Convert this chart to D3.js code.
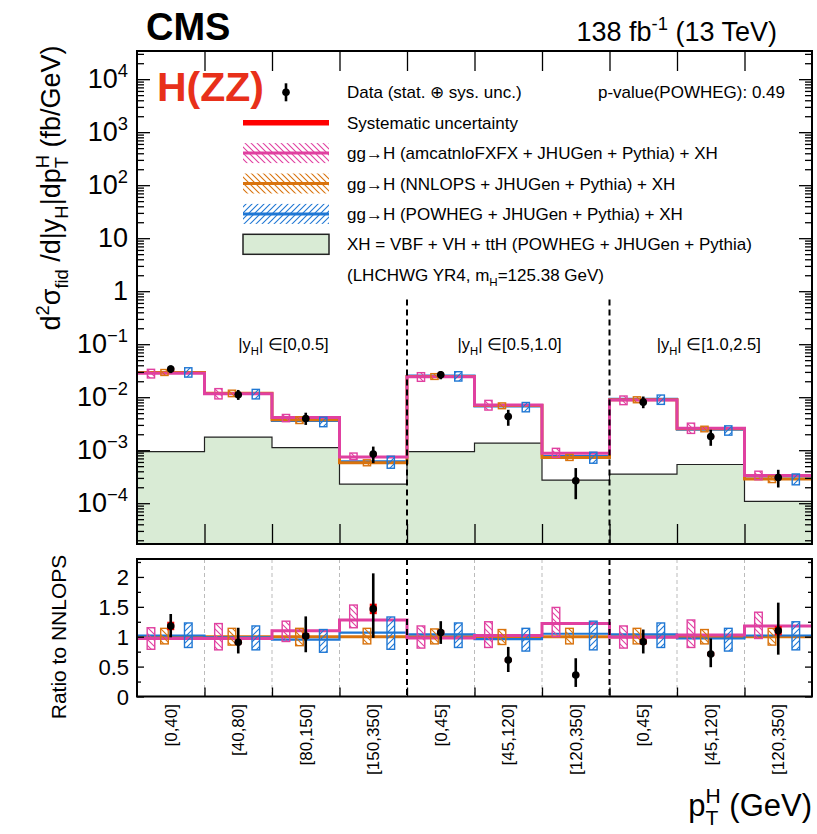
<!DOCTYPE html>
<html>
<head>
<meta charset="utf-8">
<script src="https://cdn.jsdelivr.net/npm/d3@7"></script>
<style>
  body { margin: 0; background: #fff; }
  svg { display: block; font-family: "Liberation Sans", Arial, sans-serif; }
</style>
</head>
<body>
<div id="chart"></div>
<script>
// bins (pT ranges inside each |yH| range)
const binLabels = ["[0,40]", "[40,80]", "[80,150]", "[150,350]", "[0,45]", "[45,120]", "[120,350]", "[0,45]", "[45,120]", "[120,350]"];
const rapLabels = ["[0,0.5]", "[0.5,1.0]", "[1.0,2.5]"];
const rapPos = [2.17, 5.52, 8.47];
const sepBins = [4, 7];

// upper panel (fb/GeV)
const dataXS = [0.0339, 0.0111, 0.00397, 0.000844, 0.0265, 0.00432, 0.000265, 0.00807, 0.00181, 0.000305];
const dataLo = [0.0285, 0.0089, 0.0030, 0.00057, 0.0218, 0.00289, 0.000119, 0.0062, 0.00121, 0.000198];
const dataHi = [0.0397, 0.0137, 0.0051, 0.00117, 0.0312, 0.00578, 0.00046, 0.0103, 0.00243, 0.000427];
const sysRel = [0.06, 0.04, 0.05, 0.06, 0.04, 0.05, 0.06, 0.05, 0.05, 0.07];
const nnlops = [0.0292, 0.0119, 0.00375, 0.000578, 0.0246, 0.00697, 0.000728, 0.00893, 0.00253, 0.000285];
const amcnlo = [0.0284, 0.0116, 0.00412, 0.000741, 0.0242, 0.00710, 0.000880, 0.00885, 0.00260, 0.000332];
const powheg = [0.0298, 0.0118, 0.00356, 0.000618, 0.0256, 0.00669, 0.000770, 0.00929, 0.00245, 0.000291];
const xhOnly = [0.00094, 0.00177, 0.00112, 0.000229, 0.00094, 0.00136, 0.000273, 0.000354, 0.000537, 0.000108];

// ratio panel (to NNLOPS)
const ratioData = [1.18, 0.907, 1.013, 1.465, 1.07, 0.61, 0.36, 0.917, 0.711, 1.10];
const ratioLo = [0.99, 0.72, 0.74, 0.98, 0.88, 0.41, 0.16, 0.72, 0.49, 0.70];
const ratioHi = [1.38, 1.15, 1.34, 2.06, 1.26, 0.83, 0.64, 1.12, 0.97, 1.57];
const ratioNnlops = [1, 1, 1, 1, 1, 1, 1, 1, 1, 1];
const ratioAmc = [0.97, 0.97, 1.10, 1.28, 0.98, 1.02, 1.22, 0.99, 1.03, 1.18];
const ratioPowheg = [1.02, 0.99, 0.95, 1.07, 1.04, 0.96, 1.05, 1.04, 0.97, 1.02];
const amcLo = [0.79, 0.78, 0.92, 1.15, 0.81, 0.82, 1.00, 0.81, 0.82, 0.97];
const amcHi = [1.15, 1.22, 1.26, 1.53, 1.18, 1.25, 1.49, 1.18, 1.28, 1.41];
const nnlLo = [0.88, 0.86, 0.85, 0.88, 0.88, 0.87, 0.88, 0.88, 0.88, 0.86];
const nnlHi = [1.14, 1.14, 1.14, 1.14, 1.13, 1.12, 1.14, 1.14, 1.12, 1.14];
const powLo = [0.82, 0.78, 0.74, 0.79, 0.82, 0.76, 0.78, 0.82, 0.76, 0.78];
const powHi = [1.23, 1.18, 1.12, 1.33, 1.23, 1.14, 1.26, 1.23, 1.14, 1.25];

const legendRows = [
  "Data (stat. \u2295 sys. unc.)",
  "Systematic uncertainty",
  "gg\u2192H (amcatnloFXFX + JHUGen + Pythia) + XH",
  "gg\u2192H (NNLOPS + JHUGen + Pythia) + XH",
  "gg\u2192H (POWHEG + JHUGen + Pythia) + XH",
  "XH = VBF + VH + ttH (POWHEG + JHUGen + Pythia)"
];

const width = 817, height = 834;
const xL = 137, xR = 812;
const uTop = 51, uBot = 544, rTop = 559, rBot = 696.5;

const x = d3.scaleLinear().domain([0, 10]).range([xL, xR]);
const yU = d3.scaleLog().domain([1.7e-5, 3.4e4]).range([uBot, uTop]);
const yR = d3.scaleLinear().domain([0, 2.3]).range([rBot, rTop]);

const pink = "#e040a0", orange = "#d9730d", blue = "#1f77d4", green = "#d9ebd5";

const models = [
  { color: blue, up: powheg, r: ratioPowheg, lo: powLo, hi: powHi, off: 0.26, pat: "hb", w: 2.2 },
  { color: orange, up: nnlops, r: ratioNnlops, lo: nnlLo, hi: nnlHi, off: -0.093, pat: "ho", w: 3 },
  { color: pink, up: amcnlo, r: ratioAmc, lo: amcLo, hi: amcHi, off: -0.293, pat: "hp", w: 3 }
];

const svg = d3.select("#chart").append("svg")
  .attr("width", width).attr("height", height)
  .attr("viewBox", [0, 0, width, height]);

// hatch patterns
const defs = svg.append("defs");
function hatch(id, color, back) {
  const p = defs.append("pattern").attr("id", id)
    .attr("patternUnits", "userSpaceOnUse").attr("width", 6).attr("height", 6);
  p.append("path")
    .attr("d", back ? "M0,0L6,6M-1,5L1,7M5,-1L7,1" : "M0,6L6,0M-1,1L1,-1M5,7L7,5")
    .attr("stroke", color).attr("stroke-width", 1.1);
}
hatch("hp", pink, true);
hatch("ho", orange, true);
hatch("hb", blue, false);

// rich text with sub/superscripts
function rich(sel, segs, size) {
  let cur = 0, lastSub = null;
  segs.forEach(([t, k]) => {
    const target = k === "sub" ? 0.3 * size : (k === "sup" || k === "stack") ? -0.42 * size : 0;
    const ts = sel.append("tspan").attr("dy", target - cur)
      .attr("font-size", k === "n" ? size : size * 0.68).text(t);
    if (k === "stack" && lastSub) ts.attr("dx", -lastSub.node().getComputedTextLength());
    cur = target;
    lastSub = k === "sub" ? ts : null;
  });
  return sel;
}

const stepPts = vals => vals.map((v, i) => [i, v]).concat([[10, vals[vals.length - 1]]]);

// ---------------- upper panel ----------------
const up = svg.append("g");

up.append("path")
  .attr("fill", green)
  .attr("d", d3.area().curve(d3.curveStepAfter)
    .x(d => x(d[0])).y0(uBot).y1(d => yU(d[1]))(stepPts(xhOnly)));
up.append("path")
  .attr("fill", "none").attr("stroke", "#222").attr("stroke-width", 1.2)
  .attr("d", d3.line().curve(d3.curveStepAfter)
    .x(d => x(d[0])).y(d => yU(d[1]))(stepPts(xhOnly)));

models.forEach(m => {
  up.append("path")
    .attr("fill", "none").attr("stroke", m.color).attr("stroke-width", m.w)
    .attr("d", d3.line().curve(d3.curveStepAfter)
      .x(d => x(d[0])).y(d => yU(d[1]))(stepPts(m.up)));
});

models.forEach(m => {
  up.append("g").selectAll("rect").data(d3.range(10)).join("rect")
    .attr("x", i => x(i + 0.5 + m.off) - 3.6)
    .attr("width", 7.2)
    .attr("y", i => yU(nnlops[i] * m.hi[i]))
    .attr("height", i => yU(nnlops[i] * m.lo[i]) - yU(nnlops[i] * m.hi[i]))
    .attr("fill", `url(#${m.pat})`).attr("stroke", m.color).attr("stroke-width", 1.4);
});

// separators
sepBins.forEach(b => {
  up.append("line")
    .attr("x1", x(b)).attr("x2", x(b)).attr("y1", yU(0.7)).attr("y2", uBot)
    .attr("stroke", "#000").attr("stroke-width", 2).attr("stroke-dasharray", "6,4");
});

// data
const dg = up.append("g");
dg.selectAll(".sys").data(d3.range(10)).join("rect")
  .attr("x", i => x(i + 0.5) - 3.5).attr("width", 7)
  .attr("y", i => yU(dataXS[i] * (1 + sysRel[i])))
  .attr("height", i => yU(dataXS[i] * (1 - sysRel[i])) - yU(dataXS[i] * (1 + sysRel[i])))
  .attr("fill", "#ff0000");
dg.selectAll("line").data(d3.range(10)).join("line")
  .attr("x1", i => x(i + 0.5)).attr("x2", i => x(i + 0.5))
  .attr("y1", i => yU(dataLo[i])).attr("y2", i => yU(dataHi[i]))
  .attr("stroke", "#000").attr("stroke-width", 2.6);
dg.selectAll("circle").data(d3.range(10)).join("circle")
  .attr("cx", i => x(i + 0.5)).attr("cy", i => yU(dataXS[i])).attr("r", 3.8);

// rapidity labels
rapLabels.forEach((l, k) => {
  rich(up.append("text").attr("x", x(rapPos[k])).attr("y", 350)
    .attr("text-anchor", "middle").attr("font-size", 16.5),
    [["|y", "n"], ["H", "sub"], ["| \u2208" + l, "n"]], 16.5);
});

// frame and axes
up.append("rect").attr("x", xL).attr("y", uTop).attr("width", xR - xL).attr("height", uBot - uTop)
  .attr("fill", "none").attr("stroke", "#000").attr("stroke-width", 2);

const decades = d3.range(-4, 5).map(e => Math.pow(10, e));
const minorsU = [];
d3.range(-5, 5).forEach(e => d3.range(2, 10).forEach(k => {
  const v = k * Math.pow(10, e);
  if (v > 1.7e-5 && v < 3.4e4) minorsU.push(v);
}));

function logAxes(axisFn, tx) {
  const g1 = up.append("g").attr("transform", `translate(${tx},0)`)
    .call(axisFn(yU).tickValues(decades).tickSize(-13).tickFormat(""));
  const g2 = up.append("g").attr("transform", `translate(${tx},0)`)
    .call(axisFn(yU).tickValues(minorsU).tickSize(-7).tickFormat(""));
  [g1, g2].forEach(g => { g.select(".domain").remove(); g.selectAll("line").attr("stroke-width", 1.3); });
}
logAxes(d3.axisLeft, xL);
logAxes(d3.axisRight, xR);

[[d3.axisTop, uTop], [d3.axisBottom, uBot]].forEach(([fn, ty]) => {
  const g = up.append("g").attr("transform", `translate(0,${ty})`)
    .call(fn(x).tickValues(d3.range(1, 10)).tickSize(-20).tickFormat(""));
  g.select(".domain").remove();
  g.selectAll("line").attr("stroke-width", 1.3);
});

decades.forEach(v => {
  const e = Math.round(Math.log10(v));
  const t = up.append("text").attr("x", xL - 9).attr("y", yU(v) + 9)
    .attr("text-anchor", "end").attr("font-size", 27);
  if (e === 0) t.text("1");
  else if (e === 1) t.text("10");
  else rich(t, [["10", "n"], [String(e).replace("-", "\u2212"), "sup"]], 27);
});

rich(svg.append("text").attr("transform", `translate(60,188) rotate(-90)`)
  .attr("text-anchor", "middle").attr("font-size", 27),
  [["d", "n"], ["2", "sup"], ["\u03c3", "n"], ["fid", "sub"], [" /d|y", "n"], ["H", "sub"],
   ["|dp", "n"], ["T", "sub"], ["H", "stack"], [" (fb/GeV)", "n"]], 27);

// ---------------- legend ----------------
const lg = svg.append("g");
const rowY = i => 92.3 + i * 30.4;
const sx0 = 243, sx1 = 329, tx = 347;

lg.append("line").attr("x1", 286).attr("x2", 286).attr("y1", rowY(0) - 9).attr("y2", rowY(0) + 9)
  .attr("stroke", "#000").attr("stroke-width", 2.6);
lg.append("circle").attr("cx", 286).attr("cy", rowY(0)).attr("r", 3.8);
lg.append("line").attr("x1", sx0).attr("x2", sx1).attr("y1", rowY(1)).attr("y2", rowY(1))
  .attr("stroke", "#ff0000").attr("stroke-width", 5.5);
[models[2], models[1], models[0]].forEach((m, k) => {
  const yy = rowY(2 + k);
  lg.append("rect").attr("x", sx0).attr("y", yy - 10).attr("width", sx1 - sx0).attr("height", 20)
    .attr("fill", `url(#${m.pat})`);
  lg.append("line").attr("x1", sx0).attr("x2", sx1).attr("y1", yy).attr("y2", yy)
    .attr("stroke", m.color).attr("stroke-width", 3);
});
lg.append("rect").attr("x", sx0).attr("y", rowY(5) - 10).attr("width", sx1 - sx0).attr("height", 20)
  .attr("fill", green).attr("stroke", "#222").attr("stroke-width", 1.5);

legendRows.forEach((t, i) => {
  lg.append("text").attr("x", tx).attr("y", rowY(i) + 6).attr("font-size", 17).text(t);
});
rich(lg.append("text").attr("x", tx).attr("y", rowY(6) + 6).attr("font-size", 17),
  [["(LHCHWG YR4, m", "n"], ["H", "sub"], ["=125.38 GeV)", "n"]], 17);

lg.append("text").attr("x", 785).attr("y", rowY(0) + 6).attr("text-anchor", "end")
  .attr("font-size", 17).text("p-value(POWHEG): 0.49");

svg.append("text").attr("x", 157).attr("y", 101).attr("font-size", 41).attr("font-weight", "bold")
  .attr("fill", "#e8301a").text("H(ZZ)");
svg.append("text").attr("x", 146).attr("y", 40).attr("font-size", 38).attr("font-weight", "bold")
  .text("CMS");
rich(svg.append("text").attr("x", 777).attr("y", 41).attr("text-anchor", "end").attr("font-size", 27),
  [["138 fb", "n"], ["-1", "sup"], [" (13 TeV)", "n"]], 27);

// ---------------- ratio panel ----------------
const rp = svg.append("g");

[1, 2, 3, 5, 6, 8, 9].forEach(b => {
  rp.append("line").attr("x1", x(b)).attr("x2", x(b)).attr("y1", rTop).attr("y2", rBot)
    .attr("stroke", "#bbb").attr("stroke-width", 1).attr("stroke-dasharray", "4,3");
});

[models[1], models[0], models[2]].forEach(m => {
  rp.append("path")
    .attr("fill", "none").attr("stroke", m.color).attr("stroke-width", m.w)
    .attr("d", d3.line().curve(d3.curveStepAfter)
      .x(d => x(d[0])).y(d => yR(d[1]))(stepPts(m.r)));
});

models.forEach(m => {
  rp.append("g").selectAll("rect").data(d3.range(10)).join("rect")
    .attr("x", i => x(i + 0.5 + m.off) - 3.8)
    .attr("width", 7.6)
    .attr("y", i => yR(m.hi[i]))
    .attr("height", i => yR(m.lo[i]) - yR(m.hi[i]))
    .attr("fill", `url(#${m.pat})`).attr("stroke", m.color).attr("stroke-width", 1.4);
});

const rg = rp.append("g");
rg.selectAll(".sys").data(d3.range(10)).join("rect")
  .attr("x", i => x(i + 0.5) - 3.5).attr("width", 7)
  .attr("y", i => yR(ratioData[i] * (1 + sysRel[i])))
  .attr("height", i => yR(ratioData[i] * (1 - sysRel[i])) - yR(ratioData[i] * (1 + sysRel[i])))
  .attr("fill", "#ff0000");
rg.selectAll("line").data(d3.range(10)).join("line")
  .attr("x1", i => x(i + 0.5)).attr("x2", i => x(i + 0.5))
  .attr("y1", i => yR(ratioLo[i])).attr("y2", i => yR(ratioHi[i]))
  .attr("stroke", "#000").attr("stroke-width", 2.6);
rg.selectAll("circle").data(d3.range(10)).join("circle")
  .attr("cx", i => x(i + 0.5)).attr("cy", i => yR(ratioData[i])).attr("r", 3.8);

sepBins.forEach(b => {
  rp.append("line").attr("x1", x(b)).attr("x2", x(b)).attr("y1", rTop).attr("y2", rBot)
    .attr("stroke", "#000").attr("stroke-width", 2).attr("stroke-dasharray", "6,4");
});

rp.append("rect").attr("x", xL).attr("y", rTop).attr("width", xR - xL).attr("height", rBot - rTop)
  .attr("fill", "none").attr("stroke", "#000").attr("stroke-width", 2);

const rMajor = [0, 0.5, 1, 1.5, 2];
const rMinor = [0.25, 0.75, 1.25, 1.75, 2.25];
[[d3.axisLeft, xL], [d3.axisRight, xR]].forEach(([fn, tx0]) => {
  [[rMajor, -7], [rMinor, -4]].forEach(([vals, ts]) => {
    const g = rp.append("g").attr("transform", `translate(${tx0},0)`)
      .call(fn(yR).tickValues(vals).tickSize(ts).tickFormat(""));
    g.select(".domain").remove();
    g.selectAll("line").attr("stroke-width", 1.3);
  });
});
const gb = rp.append("g").attr("transform", `translate(0,${rBot})`)
  .call(d3.axisBottom(x).tickValues(d3.range(1, 10)).tickSize(-9).tickFormat(""));
gb.select(".domain").remove();
gb.selectAll("line").attr("stroke-width", 1.3);

rMajor.forEach(v => {
  rp.append("text").attr("x", xL - 8).attr("y", yR(v) + 8).attr("text-anchor", "end")
    .attr("font-size", 22).text(String(v));
});

svg.append("text").attr("transform", `translate(66,637) rotate(-90)`)
  .attr("text-anchor", "middle").attr("font-size", 21).text("Ratio to NNLOPS");

binLabels.forEach((l, i) => {
  svg.append("text").attr("transform", `translate(${x(i + 0.5) + 6},704) rotate(-90)`)
    .attr("text-anchor", "end").attr("font-size", 17).text(l);
});

rich(svg.append("text").attr("x", 812).attr("y", 816).attr("text-anchor", "end").attr("font-size", 31),
  [["p", "n"], ["T", "sub"], ["H", "stack"], [" (GeV)", "n"]], 31);
</script>
</body>
</html>
